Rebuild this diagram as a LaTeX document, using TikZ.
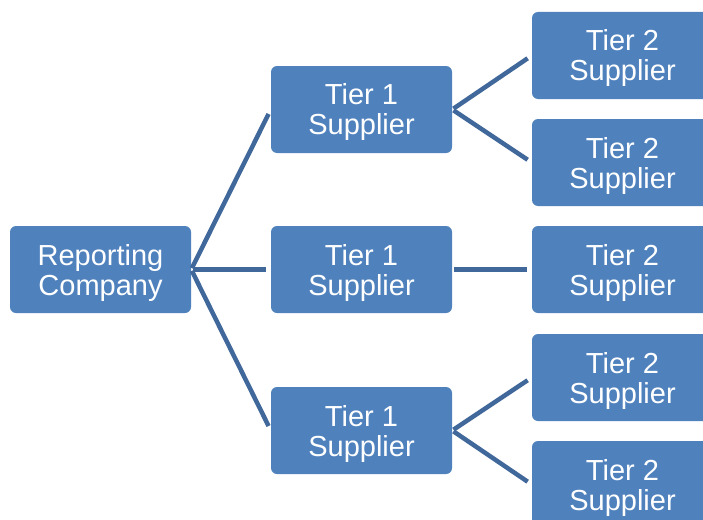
\documentclass[tikz,border=0pt]{standalone}
\usepackage{fontspec}
\setmainfont{Liberation Sans}
\definecolor{boxfill}{HTML}{4F81BD}
\definecolor{linkcol}{HTML}{41689B}
\tikzset{
  orgbox/.style={draw=none, fill=boxfill, rounded corners=6pt, minimum width=181pt, minimum height=87pt, inner sep=0pt,
    label={[boxtext, yshift=-3pt]center:#1}},
  boxtext/.style={text=white, align=center, inner sep=0pt, font=\fontsize{29pt}{30pt}\selectfont},
  link/.style={draw=linkcol, line width=4.5pt, shorten >=5pt, shorten <=1.5pt}
}
\begin{document}
\begin{tikzpicture}[x=1pt, y=-1pt]
\useasboundingbox (0,0) rectangle (703,519);
\clip (0,0) rectangle (703,519);
\node[orgbox={Reporting\\Company}] (rep) at (100.5,269.5) {};
\node[orgbox={Tier 1\\Supplier}] (t1a) at (361.5,109.5) {};
\node[orgbox={Tier 1\\Supplier}] (t1b) at (361.5,269.5) {};
\node[orgbox={Tier 1\\Supplier}] (t1c) at (361.5,430.5) {};
\node[orgbox={Tier 2\\Supplier}] (t2a) at (622.5,55.5) {};
\node[orgbox={Tier 2\\Supplier}] (t2b) at (622.5,162.5) {};
\node[orgbox={Tier 2\\Supplier}] (t2c) at (622.5,269.5) {};
\node[orgbox={Tier 2\\Supplier}] (t2d) at (622.5,377.5) {};
\node[orgbox={Tier 2\\Supplier}] (t2e) at (622.5,484.5) {};
\draw[link] (rep.east) -- (t1a.west);
\draw[link] (rep.east) -- (t1b.west);
\draw[link] (rep.east) -- (t1c.west);
\draw[link] (t1a.east) -- (t2a.west);
\draw[link] (t1a.east) -- (t2b.west);
\draw[link] (t1b.east) -- (t2c.west);
\draw[link] (t1c.east) -- (t2d.west);
\draw[link] (t1c.east) -- (t2e.west);
\end{tikzpicture}
\end{document}
